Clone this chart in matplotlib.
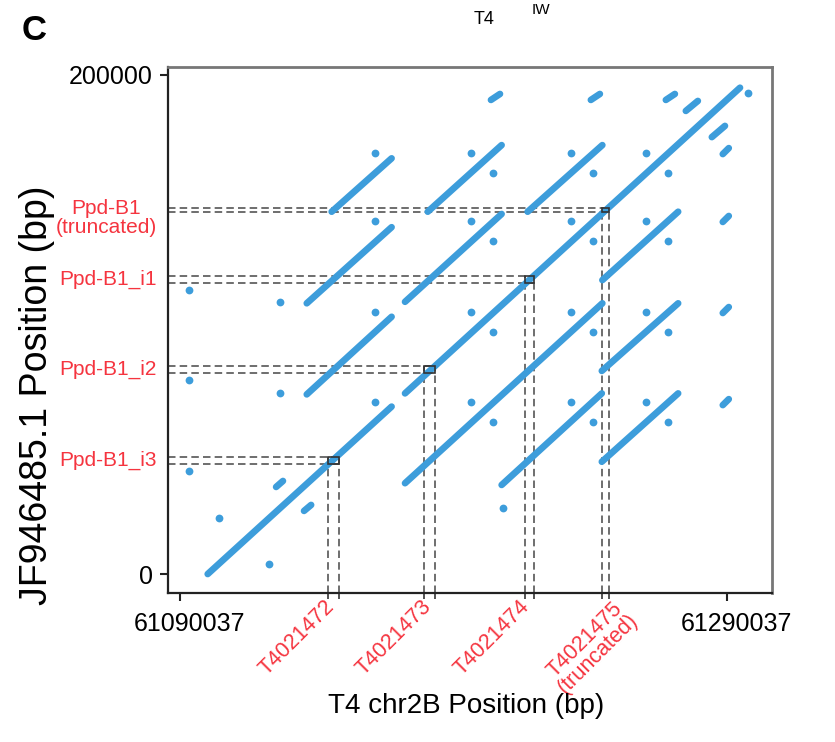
import matplotlib.pyplot as plt
from matplotlib.patches import Rectangle
from matplotlib.transforms import ScaledTranslation

plt.rcParams['font.family'] = ['Liberation Sans', 'DejaVu Sans']

# x values are offsets (bp) from the start of the T4 chr2B window
X0 = 61090037
x_ticks = [0, 200000]
x_tick_labels = ['61090037', '61290037']
y_ticks = [0, 200000]
y_tick_labels = ['0', '200000']

# long alignment segments: start/end in T4 (x) and JF946485.1 (y)
seg_x0 = [10100, 82200, 55400, 46300, 46300, 82200, 90500, 127000, 82200, 154300, 154100, 117500, 154100]
seg_x1 = [77300, 204600, 77300, 77300, 77300, 117500, 117500, 154300, 154300, 182000, 182000, 154100, 182000]
seg_y0 = [0, 72400, 145200, 108500, 72000, 109100, 145200, 145200, 36400, 117800, 81400, 35700, 45000]
seg_y1 = [67100, 194900, 166600, 139000, 103100, 144300, 171900, 171900, 108500, 145200, 108500, 72400, 72400]

# short fragments
frag_x0 = [113600, 150100, 177500, 184800, 194300, 198300, 198300, 198300, 198300, 35100, 45300]
frag_x1 = [116900, 153400, 180800, 189200, 199100, 200500, 200500, 200500, 200500, 37600, 47900]
frag_y0 = [190000, 190000, 190000, 185600, 175100, 168300, 141100, 104600, 67700, 34900, 25300]
frag_y1 = [192400, 192400, 192400, 189600, 179600, 170700, 143500, 107000, 70100, 37300, 27700]

# isolated dots
dot_x = [3400, 36500, 3400, 36500, 3400, 14400, 32600, 118100, 207600,
         71200, 106300, 142800, 170100,
         71200, 106300, 142800, 170100,
         71200, 106300, 142800, 170100,
         71200, 106300, 142800, 170100,
         114500, 151000, 178200,
         114500, 151000, 178200,
         114500, 151000, 178200,
         114500, 151000, 178200]
dot_y = [114000, 108900, 77800, 72400, 41300, 22300, 4000, 26300, 192700,
         168600, 168600, 168600, 168600,
         141500, 141500, 141500, 141500,
         105100, 105100, 105100, 105100,
         68800, 68800, 68800, 68800,
         160800, 160800, 160800,
         133500, 133500, 133500,
         97100, 97100, 97100,
         60800, 60800, 60800]

# gene spans
gx_start = [54200, 89200, 126000, 154100]
gx_end = [58100, 93200, 129300, 156800]
gy_start = [44000, 80400, 116600, 145000]
gy_end = [47000, 83500, 119600, 146800]
gx_names = ['T4021472', 'T4021473', 'T4021474', 'T4021475\n(truncated)']
gy_names = ['Ppd-B1_i3', 'Ppd-B1_i2', 'Ppd-B1_i1', 'Ppd-B1\n(truncated)']

blue = '#3d9ddb'
red = '#f5343f'
grey = '#555555'

fig = plt.figure(figsize=(8.35, 7.42), dpi=100)
ax = fig.add_axes([0.2012, 0.2008, 0.7234, 0.7089])
xmin, xmax = -4400, 216300
ymin, ymax = -7600, 203200

# dashed guides and gene boxes
for i in range(4):
    for yy in (gy_start[i], gy_end[i]):
        ax.plot([xmin, gx_end[i]], [yy, yy], color=grey, lw=1.2, dashes=(4.5, 2.5), zorder=1)
    for xx in (gx_start[i], gx_end[i]):
        ax.plot([xx, xx], [ymin, gy_end[i]], color=grey, lw=1.2, dashes=(4.5, 2.5), zorder=1)
    ax.add_patch(Rectangle((gx_start[i], gy_start[i]), gx_end[i] - gx_start[i],
                           gy_end[i] - gy_start[i], fill=False, ec='#333333', lw=1.2, zorder=3))

for a, b, c, d in zip(seg_x0, seg_x1, seg_y0, seg_y1):
    ax.plot([a, b], [c, d], color=blue, lw=4.8, solid_capstyle='round', zorder=2)
for a, b, c, d in zip(frag_x0, frag_x1, frag_y0, frag_y1):
    ax.plot([a, b], [c, d], color=blue, lw=4.8, solid_capstyle='round', zorder=2)
ax.plot(dot_x, dot_y, 'o', ms=5.6, color=blue, mec='none', zorder=2)

ax.set_xlim(xmin, xmax)
ax.set_ylim(ymin, ymax)

ax.set_xticks(x_ticks)
ax.set_xticklabels(x_tick_labels)
ax.set_yticks(y_ticks)
ax.set_yticklabels(y_tick_labels)
ax.set_xticks(gx_start + gx_end, minor=True)
ax.tick_params(which='major', direction='out', length=6, width=1.5, labelsize=18, pad=5, color='#222222')
ax.tick_params(which='minor', axis='x', direction='out', length=4, width=1.2, color='#333333')
ax.tick_params(axis='x', which='major', pad=8)
shift = ScaledTranslation(0.09, 0, fig.dpi_scale_trans)
for lbl in ax.get_xticklabels():
    lbl.set_transform(lbl.get_transform() + shift)

for side in ['left', 'bottom']:
    ax.spines[side].set_linewidth(1.6)
    ax.spines[side].set_color('#222222')
for side in ['top', 'right']:
    ax.spines[side].set_linewidth(2)
    ax.spines[side].set_color('#777777')

# gene labels
for i in range(4):
    dx = 24 if i == 3 else 0
    ax.annotate(gx_names[i], xy=(gx_end[i], 0), xycoords=ax.get_xaxis_transform(),
                xytext=(dx, -2), textcoords='offset points', rotation=45,
                ha='right', va='top', color=red, fontsize=15.5, multialignment='center',
                linespacing=0.9)
    dy = -6 if i == 3 else 0
    ax.annotate(gy_names[i], xy=(0, (gy_start[i] + gy_end[i]) / 2), xycoords=ax.get_yaxis_transform(),
                xytext=(-8, dy), textcoords='offset points', ha='right', va='center',
                color=red, fontsize=15, multialignment='center', linespacing=1.0)

fig.text(466 / 835, 1 - 706 / 742, 'T4 chr2B Position (bp)', ha='center', va='center', fontsize=20)
fig.text(37 / 835, 1 - 395 / 742, 'JF946485.1 Position (bp)', ha='center', va='center',
         rotation=90, fontsize=27)

fig.text(0.026, 1 - 30 / 742, 'C', ha='left', va='center', fontsize=25, fontweight='bold')
fig.text(484 / 835, 1 - 20 / 742, 'T4', ha='center', va='center', fontsize=13)
fig.text(541 / 835, 1 - 10 / 742, 'IW', ha='center', va='center', fontsize=11)

fig.savefig('out.png', dpi=100)
